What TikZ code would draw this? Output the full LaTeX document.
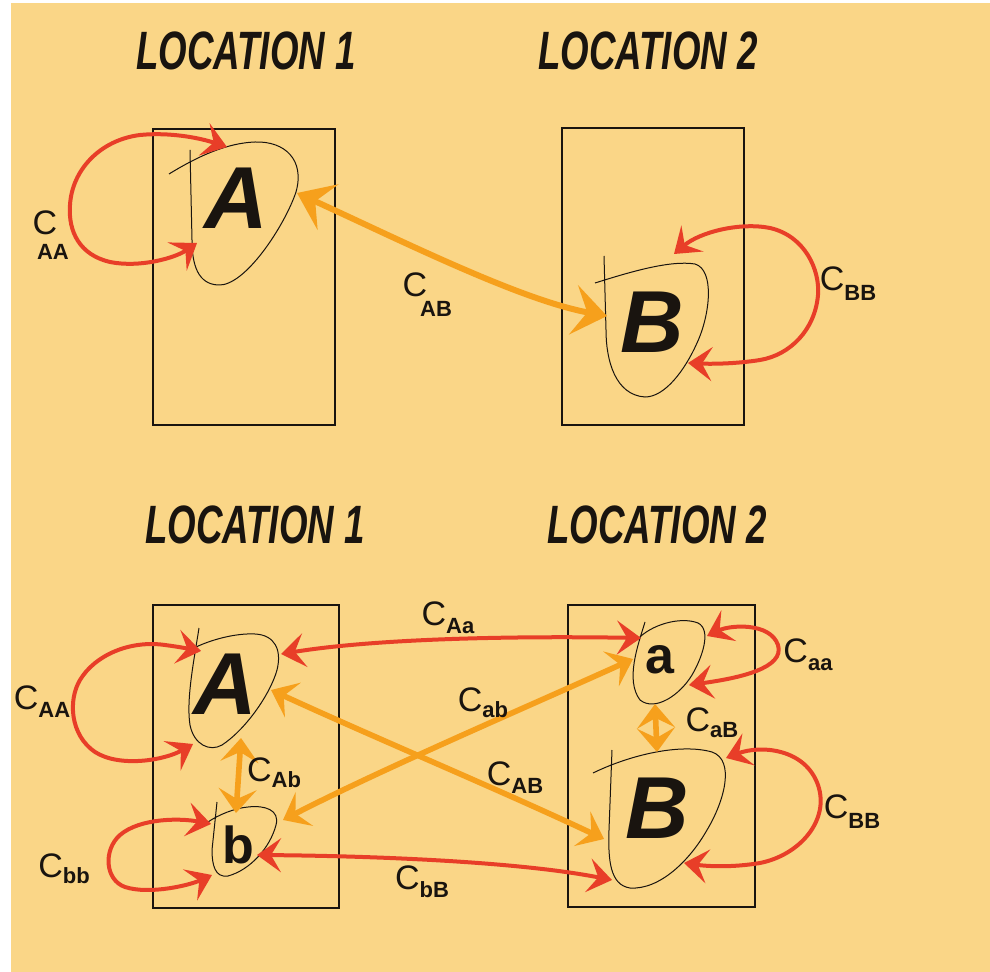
\documentclass[tikz,border=0pt]{standalone}
\usepackage{fontspec}
\usepackage{graphicx}
\setmainfont{Liberation Sans}
\usetikzlibrary{arrows.meta}
\definecolor{bg}{RGB}{250,214,135}
\definecolor{redarr}{RGB}{232,62,40}
\definecolor{orarr}{RGB}{246,160,28}
\definecolor{ink}{RGB}{25,20,15}
\begin{document}
\begin{tikzpicture}[x=0.5pt,y=-0.5pt,
  boxline/.style={draw=ink, line width=0.7pt},
  blobline/.style={draw=ink, line width=0.5pt},
  rtip/.tip={Stealth[length=12pt,width=17pt,inset=5pt]},
  otip/.tip={Stealth[length=17pt,width=25pt,inset=7pt]},
  otipsmall/.tip={Stealth[length=12pt,width=19pt,inset=5pt]},
  redc/.style={draw=redarr, line width=2pt, rtip-rtip},
  orc/.style={draw=orarr, line width=3pt, otip-otip},
  orcs/.style={draw=orarr, line width=2.8pt, otipsmall-otipsmall},
  title/.style={inner sep=0pt, font=\fontsize{27}{27}\selectfont\bfseries\itshape, text=ink},
  bigletter/.style={inner sep=0pt, font=\fontsize{44}{44}\selectfont\bfseries\itshape, text=ink},
  smallletter/.style={inner sep=0pt, font=\fontsize{26}{26}\selectfont\bfseries, text=ink},
  lab/.style={inner sep=0pt, font=\fontsize{17}{17}\selectfont, text=ink},
  sub/.style={inner sep=0pt, font=\fontsize{11}{11}\selectfont\bfseries, text=ink}
]
\useasboundingbox (0,0) rectangle (990,972);
\fill[white] (0,0) rectangle (990,972);
\fill[bg] (11,3) rectangle (990,972);

% ---------------- TOP ----------------
\node[title] (T1) at (246,51) {\scalebox{0.68}[1]{LOCATION 1}};
\node[title] (T2) at (648,51) {\scalebox{0.68}[1]{LOCATION 2}};

\draw[boxline] (153,129) rectangle (335,425);
\draw[boxline] (562,128) rectangle (744,425);

% blob A
\draw[blobline] (169,174) .. controls (200,155) and (228,143) .. (255,142)
  .. controls (285,141) and (305,160) .. (296,192)
  .. controls (285,225) and (245,287) .. (218,285)
  .. controls (198,284) and (192,265) .. (192,240) -- (190,150);
\node[bigletter] (A1) at (236,198) {A};

% blob B
\draw[blobline] (595,283) .. controls (630,272) and (670,260) .. (695,264)
  .. controls (715,270) and (710,315) .. (697,343)
  .. controls (685,370) and (665,397) .. (645,397)
  .. controls (615,395) and (606,360) .. (606,330) -- (604,256);
\node[bigletter] (B1) at (652,322) {B};

% C_AA loop
\coordinate (A1lo) at (197,243);
\coordinate (A1hi) at (227,147);
\draw[redc] (A1lo) .. controls (175,258) and (140,268) .. (110,262)
  .. controls (80,255) and (68,232) .. (70,205)
  .. controls (72,170) and (100,140) .. (140,135)
  .. controls (170,132) and (200,138) .. (A1hi);
\node[lab] (lCAAt) at (45,223) {C};
\node[sub] (lCAAts) at (53,252) {AA};

% C_BB loop
\coordinate (B1hi) at (674,254);
\coordinate (B1lo) at (688,363);
\draw[redc] (B1hi) .. controls (700,232) and (740,222) .. (770,228)
  .. controls (805,236) and (820,270) .. (818,295)
  .. controls (815,330) and (790,355) .. (760,360)
  .. controls (735,364) and (710,364) .. (B1lo);
\node[lab] (lCBBt) at (848,284) {C\raisebox{-5pt}{\fontsize{11}{11}\selectfont\bfseries BB}};

% C_AB
\coordinate (A1r) at (297,193);
\coordinate (B1l) at (607,316);
\draw[orc] (A1r) .. controls (400,240) and (520,300) .. (B1l);
\node[lab] (lCABt) at (415,285) {C};
\node[sub] (lCABts) at (436,309) {AB};

% ---------------- BOTTOM ----------------
\node[title] (T3) at (255,525) {\scalebox{0.68}[1]{LOCATION 1}};
\node[title] (T4) at (657,525) {\scalebox{0.68}[1]{LOCATION 2}};

\draw[boxline] (153,605) rectangle (339,908);
\draw[boxline] (568,605) rectangle (755,907);

% blob A bottom
\draw[blobline] (199,628) .. controls (194,660) and (186,700) .. (190,725)
  .. controls (194,745) and (210,752) .. (222,745)
  .. controls (245,730) and (270,695) .. (277,670)
  .. controls (282,650) and (275,635) .. (255,634)
  .. controls (235,633) and (210,640) .. (194,648);
\node[bigletter] (A2) at (225,684) {A};

% blob b
\draw[blobline] (217,802) -- (212,850) .. controls (212,865) and (215,878) .. (228,876)
  .. controls (250,870) and (270,848) .. (276,825)
  .. controls (280,810) and (265,805) .. (248,807)
  .. controls (235,808) and (218,815) .. (208,822);
\node[smallletter] (b2) at (238,845) {b};

% blob a
\draw[blobline] (645,622) .. controls (638,645) and (625,680) .. (640,700)
  .. controls (655,712) and (680,695) .. (692,675)
  .. controls (702,658) and (712,630) .. (698,623)
  .. controls (680,616) and (650,625) .. (637,640);
\node[smallletter] (a2) at (660,660) {a};

% blob B bottom
\draw[blobline] (593,773) .. controls (630,755) and (680,743) .. (712,752)
  .. controls (735,760) and (725,800) .. (707,830)
  .. controls (690,860) and (660,890) .. (630,888)
  .. controls (610,885) and (608,860) .. (609,830) -- (612,750);
\node[bigletter] (B2) at (657,808) {B};

% C_AA loop bottom
\coordinate (A2lo) at (193,744);
\coordinate (A2hi) at (201,651);
\draw[redc] (A2lo) .. controls (165,760) and (120,768) .. (95,752)
  .. controls (70,735) and (68,700) .. (80,680)
  .. controls (95,655) and (130,640) .. (165,645)
  .. controls (180,647) and (190,649) .. (A2hi);
\node[lab] (lCAAb) at (42,702) {C\raisebox{-4pt}{\fontsize{11}{11}\selectfont\bfseries AA}};

% C_bb loop
\coordinate (b2lo) at (212,875);
\coordinate (b2hi) at (211,824);
\draw[redc] (b2lo) .. controls (190,885) and (150,895) .. (125,887)
  .. controls (105,880) and (103,850) .. (120,835)
  .. controls (140,818) and (180,818) .. (b2hi);
\node[lab] (lCbb) at (64,869) {C\raisebox{-3pt}{\fontsize{11}{11}\selectfont\bfseries bb}};

% C_aa loop
\coordinate (a2hi) at (707,636);
\coordinate (a2lo) at (689,685);
\draw[redc] (a2hi) .. controls (730,625) and (770,622) .. (778,645)
  .. controls (785,668) and (740,678) .. (a2lo);
\node[lab] (lCaa) at (808,655) {C\raisebox{-4pt}{\fontsize{11}{11}\selectfont\bfseries aa}};

% C_BB loop bottom
\coordinate (B2hi) at (726,758);
\coordinate (B2lo) at (684,863);
\draw[redc] (B2hi) .. controls (760,745) and (805,748) .. (818,785)
  .. controls (830,820) and (800,855) .. (760,863)
  .. controls (730,868) and (705,866) .. (B2lo);
\node[lab] (lCBBb) at (852,812) {C\raisebox{-5pt}{\fontsize{11}{11}\selectfont\bfseries BB}};

% C_Aa
\coordinate (A2r) at (281,654);
\coordinate (a2l) at (641,638);
\draw[redc] (A2r) .. controls (380,638) and (520,636) .. (a2l);
\node[lab] (lCAa) at (448,618) {C\raisebox{-4pt}{\fontsize{11}{11}\selectfont\bfseries Aa}};

% C_bB
\coordinate (b2r) at (257,855);
\coordinate (B2l) at (612,880);
\draw[redc] (b2r) .. controls (380,856) and (520,862) .. (B2l);
\node[lab] (lCbB) at (422,882) {C\raisebox{-4pt}{\fontsize{11}{11}\selectfont\bfseries bB}};

% C_AB bottom
\coordinate (A2rl) at (271,690);
\coordinate (B2ll) at (604,839);
\draw[orcs] (A2rl) .. controls (380,740) and (500,790) .. (B2ll);
\node[lab] (lCABb) at (515,778) {C\raisebox{-4pt}{\fontsize{11}{11}\selectfont\bfseries AB}};

% C_ab
\coordinate (b2rr) at (283,820);
\coordinate (a2ll) at (633,659);
\draw[orcs] (b2rr) .. controls (380,770) and (520,710) .. (a2ll);
\node[lab] (lCab) at (483,703) {C\raisebox{-3pt}{\fontsize{11}{11}\selectfont\bfseries ab}};

% C_Ab
\coordinate (A2b) at (241,738);
\coordinate (b2t) at (236,813);
\draw[orcs] (A2b) -- (b2t);
\node[lab] (lCAb) at (274,773) {C\raisebox{-3pt}{\fontsize{11}{11}\selectfont\bfseries Ab}};

% C_aB
\coordinate (a2b) at (655,704);
\coordinate (B2t) at (657,752);
\draw[orcs] (a2b) -- (B2t);
\node[lab] (lCaB) at (712,723) {C\raisebox{-3pt}{\fontsize{11}{11}\selectfont\bfseries aB}};
\end{tikzpicture}
\end{document}
